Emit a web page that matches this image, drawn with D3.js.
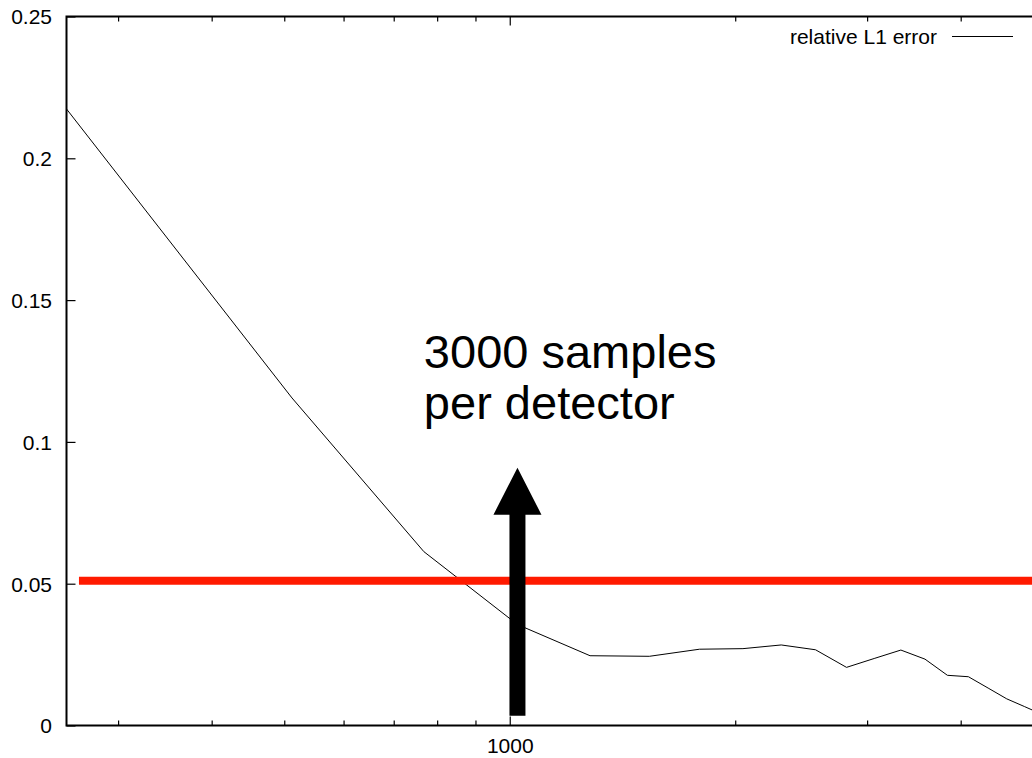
<!DOCTYPE html>
<html>
<head>
<meta charset="utf-8">
<script src="https://cdn.jsdelivr.net/npm/d3@7"></script>
<style>
  html, body { margin: 0; padding: 0; background: #fff; }
  svg { display: block; }
  text { font-family: "Liberation Sans", Arial, Helvetica, sans-serif; fill: #000; }
</style>
</head>
<body>
<svg id="chart" width="1032" height="758"></svg>
<script>
// ---- data ----
const samples = [256, 512, 768, 1024, 1280, 1536, 1792, 2048, 2304, 2560, 2816, 3072,
                 3328, 3584, 3840, 4096, 4352, 4608, 4864, 5120];
const relL1Error = [0.2174, 0.1155, 0.0613, 0.0356, 0.0246, 0.0244, 0.0269, 0.0271,
                    0.0284, 0.0267, 0.0205, 0.0237, 0.0266, 0.0234, 0.0177, 0.0172,
                    0.0132, 0.0094, 0.0067, 0.0041];
const yTicks = [0, 0.05, 0.1, 0.15, 0.2, 0.25];
const yTickLabels = ["0", "0.05", "0.1", "0.15", "0.2", "0.25"];
const xMajorTicks = [1000];
const xMajorLabels = ["1000"];
const xMinorTicks = [300, 400, 500, 600, 700, 800, 900, 2000, 3000, 4000, 5000];
const thresholdLine = { x0: 266, x1: 5120, y: 0.051 };
const arrowMark = { x: 1024, yFrom: 0.0034, yTo: 0.0909 };
const annotationLines = ["3000 samples", "per detector"];
const annotationPos = { x: 768, y: 0.1261 };
const legendLabel = "relative L1 error";

// ---- layout ----
const svg = d3.select("#chart");
const L = 66.5, R = 1041, T = 16.5, B = 725.5;
const x = d3.scaleLog().domain([256, 5120]).range([L, R]);
const y = d3.scaleLinear().domain([0, 0.25]).range([B, T]);

svg.append("defs").append("clipPath").attr("id", "plotclip")
  .append("rect").attr("x", L).attr("y", T).attr("width", R - L).attr("height", B - T);

const plot = svg.append("g").attr("clip-path", "url(#plotclip)");

// data line
plot.append("path")
  .datum(samples.map((s, i) => [s, relL1Error[i]]))
  .attr("fill", "none").attr("stroke", "#000").attr("stroke-width", 1)
  .attr("d", d3.line().x(d => x(d[0])).y(d => y(d[1])));

// red threshold line
plot.append("line")
  .attr("x1", x(thresholdLine.x0)).attr("x2", x(thresholdLine.x1))
  .attr("y1", y(thresholdLine.y)).attr("y2", y(thresholdLine.y))
  .attr("stroke", "#ff1a00").attr("stroke-width", 8);

// black arrow
const ax = x(arrowMark.x), ay0 = y(arrowMark.yFrom), ay1 = y(arrowMark.yTo);
const headLen = 47, headHalf = 24, shaftHalf = 8;
plot.append("path")
  .attr("fill", "#000")
  .attr("d", `M${ax - shaftHalf},${ay0} L${ax - shaftHalf},${ay1 + headLen} L${ax - headHalf},${ay1 + headLen}
              L${ax},${ay1} L${ax + headHalf},${ay1 + headLen} L${ax + shaftHalf},${ay1 + headLen}
              L${ax + shaftHalf},${ay0} Z`);

// annotation text
const ann = svg.append("text")
  .attr("x", x(annotationPos.x)).attr("y", y(annotationPos.y))
  .attr("font-size", 47);
annotationLines.forEach((t, i) => {
  ann.append("tspan").attr("x", x(annotationPos.x)).attr("dy", i === 0 ? 0 : 51).text(t);
});

// ---- axes (gnuplot style: border + inward ticks, mirrored) ----
const axisG = svg.append("g");
const yAxisL = d3.axisLeft(y).tickValues(yTicks).tickFormat((d, i) => yTickLabels[i]).tickSizeInner(-9).tickSizeOuter(0).tickPadding(14.5);
const gyl = axisG.append("g").attr("transform", `translate(${L},0)`).call(yAxisL);
const yAxisR = d3.axisRight(y).tickValues(yTicks).tickFormat("").tickSizeInner(-9).tickSizeOuter(0);
const gyr = axisG.append("g").attr("transform", `translate(${R},0)`).call(yAxisR);

const xAxisB = d3.axisBottom(x).tickValues(xMajorTicks).tickFormat((d, i) => xMajorLabels[i]).tickSizeInner(-9).tickSizeOuter(0).tickPadding(13);
const gxb = axisG.append("g").attr("transform", `translate(0,${B})`).call(xAxisB);
const xAxisT = d3.axisTop(x).tickValues(xMajorTicks).tickFormat("").tickSizeInner(-9).tickSizeOuter(0);
const gxt = axisG.append("g").attr("transform", `translate(0,${T})`).call(xAxisT);
const xMinB = d3.axisBottom(x).tickValues(xMinorTicks).tickFormat("").tickSizeInner(-5).tickSizeOuter(0);
const gmb = axisG.append("g").attr("transform", `translate(0,${B})`).call(xMinB);
const xMinT = d3.axisTop(x).tickValues(xMinorTicks).tickFormat("").tickSizeInner(-5).tickSizeOuter(0);
const gmt = axisG.append("g").attr("transform", `translate(0,${T})`).call(xMinT);

[gyl, gyr, gxb, gxt, gmb, gmt].forEach(g => {
  g.select(".domain").remove();
  g.selectAll(".tick line").attr("stroke", "#000").attr("stroke-width", 1.2);
  g.selectAll("text").attr("font-size", 21).attr("fill", "#000")
    .style("font-family", '"Liberation Sans", Arial, sans-serif');
});
gyl.selectAll(".tick text").attr("dy", "0.35em");

// border rectangle
axisG.append("rect").attr("x", L).attr("y", T).attr("width", R - L).attr("height", B - T)
  .attr("fill", "none").attr("stroke", "#000").attr("stroke-width", 2);

// legend
svg.append("text").attr("x", 937).attr("y", 44).attr("text-anchor", "end")
  .attr("font-size", 21).text(legendLabel);
svg.append("line").attr("x1", 952).attr("x2", 1013).attr("y1", 36.5).attr("y2", 36.5)
  .attr("stroke", "#000").attr("stroke-width", 1);
</script>
</body>
</html>
